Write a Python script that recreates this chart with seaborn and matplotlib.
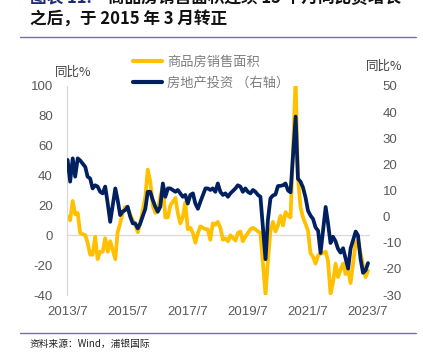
import matplotlib
matplotlib.use('Agg')
import matplotlib.pyplot as plt
import seaborn as sns
import pandas as pd
from matplotlib.lines import Line2D

sns.set_theme(style='white')
plt.rcParams['font.family'] = ['Noto Sans CJK SC', 'DejaVu Sans']

# monthly data 2013/7 - 2023/7 (January merged into Jan-Feb, so no January points)
months = pd.date_range('2013-07-01', '2023-07-01', freq='MS')
months = months[months.month != 1]

sales_area = [
    12.6, 10, 23, 14, 15, 1.5,                               # 2013 Jul-Dec
    0, -5, -13, -13, -1, -16, -11, -11, -2, -11, -4,         # 2014 Feb-Dec
    -16, 2, 8, 15, 19, 18, 14, 10, 7, 2, 8,                  # 2015
    26, 44, 36, 20, 15, 16, 26, 33, 12, 12, 20,              # 2016
    25, 15, 8, 12, 22, 4, 5, 1.5, -5, 1.5, 6,                # 2017
    4.1, 4, -3, 8, 7, 9, 5, -3, -2, -4, 0,                   # 2018
    -3.6, 1.5, 2.5, -4, -1, 1.5, 4, 5, 4, 2.5, 1.5,          # 2019
    -39.9, -17, 3, 9, 2.5, 6.6, 13, 6.6, 15.5, 13, 12,       # 2020
    104.9, 39, 19, 12, 7.7, 3, -12, -14.5, -19, -13.5, -12.5,  # 2021
    -11, -17, -39, -32, -19, -28, -23, -19, -26, -23, -32,   # 2022
    -5, -3.5, -12, -20, -28, -23.8,                          # 2023 Feb-Jul
]

investment = [
    21.7, 13.4, 22.3, 15.3, 22.3, 21.5,                      # 2013 Jul-Dec
    19, 15.3, 14.6, 10.8, 12, 11.5, 9.5, 8.9, 11.5, 5, -2,   # 2014
    10.8, 6.4, 0.6, 1.9, 2.5, 3.8, 0, -2.6, -2.6, -4.5, -2.6,  # 2015
    3, 9.5, 9.5, 6.4, 3.8, 1.9, 3.8, 12.7, 7.6, 10.8, 10.8,  # 2016
    9.5, 10.2, 8.9, 7.6, 8.3, 5, 8.3, 8.9, 5, 3, 5.7,        # 2017
    10.8, 10.8, 10.2, 10.8, 9.5, 12.7, 9.5, 8.3, 8.9, 7.6, 8.9,  # 2018
    10.8, 12, 11.5, 9.5, 10.8, 9.5, 8.9, 10.2, 9.5, 8.3, 7.6,  # 2019
    -16.3, -1.2, 7, 8.1, 8.5, 11.7, 11.8, 12, 12.7, 10, 9.3,  # 2020
    38.3, 14.5, 13.4, 11.2, 7.4, 2.3, 0.4, -0.9, -4.1, -5.4, -13.9,  # 2021
    3.7, -2.4, -10.1, -7.7, -9.4, -12.3, -13.8, -12.1, -16, -19.9, -12.2,  # 2022
    -5.7, -7.2, -16.2, -21.5, -20.6, -17.8,                  # 2023
]

xtick_dates = ['2013-07-01', '2015-07-01', '2017-07-01', '2019-07-01', '2021-07-01', '2023-07-01']
xtick_labels = ['2013/7', '2015/7', '2017/7', '2019/7', '2021/7', '2023/7']
left_ticks = [-40, -20, 0, 20, 40, 60, 80, 100]
right_ticks = [-30, -20, -10, 0, 10, 20, 30, 40, 50]

series_sales = '商品房销售面积'
series_inv = '房地产投资 （右轴）'

df = pd.DataFrame({'date': months, 'sales': sales_area, 'invest': investment})

W, H = 423, 360
fig = plt.figure(figsize=(W / 100, H / 100), dpi=100)
fig.patch.set_facecolor('white')
ax = fig.add_axes([66.7 / W, 65 / H, (370 - 66.7) / W, 209 / H])
ax2 = ax.twinx()

yellow = '#FFC000'
navy = '#002060'

sns.lineplot(data=df, x='date', y='sales', ax=ax, color=yellow, lw=2.7, legend=False)
sns.lineplot(data=df, x='date', y='invest', ax=ax2, color=navy, lw=2.7, legend=False)

ax.set_xlim(pd.Timestamp('2013-06-20'), pd.Timestamp('2023-07-25'))
ax.set_ylim(-40, 100)
ax2.set_ylim(-30, 50)
ax.axhline(0, color='#d9d9d9', lw=0.9, zorder=0)

ax.set_xticks(pd.to_datetime(xtick_dates))
ax.set_xticklabels(xtick_labels)
ax.set_yticks(left_ticks)
ax.set_yticklabels([str(t) for t in left_ticks])
ax2.set_yticks(right_ticks)
ax2.set_yticklabels([str(t) for t in right_ticks])

for lab in ax.get_xticklabels() + ax.get_yticklabels() + ax2.get_yticklabels():
    lab.set_fontfamily('Liberation Sans')
    lab.set_fontsize(9.5)
    lab.set_color('#595959')
ax.tick_params(axis='x', length=0, pad=8)
ax.tick_params(axis='y', length=0, pad=10)
ax2.tick_params(axis='y', length=0, pad=9)

ax.set_xlabel('')
ax.set_ylabel('')
ax2.set_ylabel('')
for s in ['top', 'right', 'bottom']:
    ax.spines[s].set_visible(False)
ax.spines['left'].set_color('#d9d9d9')
ax.spines['left'].set_linewidth(0.9)
for s in ax2.spines.values():
    s.set_visible(False)

# unit labels
fig.text(55 / W, 1 - 72 / H, '同比%', fontsize=9, color='#404040', va='center', ha='left')
fig.text(366 / W, 1 - 66 / H, '同比%', fontsize=9, color='#404040', va='center', ha='left')

# legend
handles = [Line2D([0], [0], color=yellow, lw=3), Line2D([0], [0], color=navy, lw=3)]
leg = fig.legend(handles, [series_sales, series_inv], loc='upper left',
                 bbox_to_anchor=(133 / W, 1 - 56 / H), bbox_transform=fig.transFigure,
                 frameon=False, fontsize=9.5, handlelength=2.2, handletextpad=0.4,
                 labelspacing=0.55, borderpad=0, borderaxespad=0)
for t in leg.get_texts():
    t.set_color('#7f7f7f')

# title (first line partly cut off at the top edge, as in the original)
fig.text(30 / W, 1 + 2 / H, '图表 11:', fontsize=12, fontweight='bold', color='#1F2A7A', va='center')
fig.text(108 / W, 1 + 2 / H, '商品房销售面积连续 15 个月同比负增长', fontsize=12,
         fontweight='bold', color='#111111', va='center')
fig.text(30 / W, 1 - 19 / H, '之后，于 2015 年 3 月转正', fontsize=12, fontweight='bold',
         color='#111111', va='center')

# rules
fig.add_artist(Line2D([20 / W, 416 / W], [1 - 37 / H, 1 - 37 / H], color='#77739f', lw=1))
fig.add_artist(Line2D([20 / W, 416 / W], [1 - 333 / H, 1 - 333 / H], color='#77739f', lw=1))

fig.text(30 / W, 1 - 344 / H, '资料来源：Wind，浦银国际', fontsize=7, color='#222222', va='center')

fig.savefig('out.png', dpi=100, facecolor='white')
